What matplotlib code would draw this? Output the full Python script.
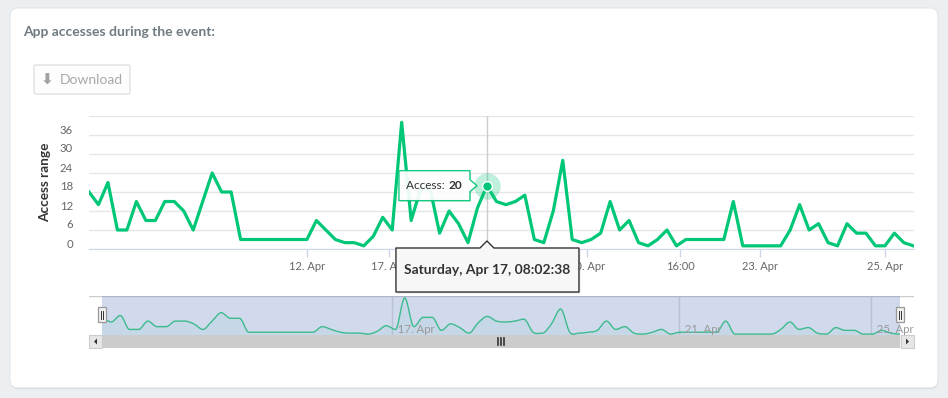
import numpy as np
import matplotlib
matplotlib.use('Agg')
import matplotlib.pyplot as plt
from matplotlib.patches import FancyBboxPatch, Rectangle, Polygon, PathPatch
from matplotlib.path import Path
import matplotlib.transforms as mtrans

plt.rcParams['font.family'] = ['Lato', 'DejaVu Sans']

# ---------------- data ----------------
access = [18, 14, 21, 6, 6, 15, 9, 9, 15, 15, 12, 6, 15, 24, 18, 18,
          3, 3, 3, 3, 3, 3, 3, 3, 9, 6, 3, 2, 2, 1, 4, 10, 6, 40, 9, 19,
          19, 5, 12, 8, 2, 13, 20, 15, 14, 15, 17, 3, 2, 12, 28, 3, 2, 3,
          5, 15, 6, 9, 2, 1, 3, 6, 1, 3, 3, 3, 3, 3, 15, 1, 1, 1, 1, 1,
          6, 14, 6, 8, 2, 1, 8, 5, 5, 1, 1, 5, 2, 1]
xtick_pos = [23, 31.7, 41.4, 52.6, 62.4, 70.8, 84]
xtick_labels = ['12. Apr', '17. Apr', '08:00', '20. Apr', '16:00', '23. Apr', '25. Apr']
ytick_vals = [0, 6, 12, 18, 24, 30, 36, 42]
nav_tick_pos = [31.6, 62.9, 83.8]
nav_tick_labels = ['17. Apr', '21. Apr', '25. Apr']
hover_index = 42
hover_label = 'Saturday, Apr 17, 08:02:38'
series_name = 'Access'
title = 'App accesses during the event:'
y_title = 'Access range'

W, H = 948, 398
GREEN = '#00c777'
x = np.arange(len(access))
y = np.array(access, dtype=float)

fig = plt.figure(figsize=(W / 100, H / 100), dpi=100)
fig.patch.set_facecolor('#eceff1')

def fr(l, t, r, b):
    return [l / W, 1 - b / H, (r - l) / W, (b - t) / H]

# background / card
bg = fig.add_axes([0, 0, 1, 1], zorder=0)
bg.set_xlim(0, W); bg.set_ylim(H, 0); bg.axis('off')
bg.add_patch(FancyBboxPatch((11, 10), 927, 379, boxstyle='round,pad=0,rounding_size=8',
                            fc='#c8cbcd', ec='none', alpha=0.8))
bg.add_patch(FancyBboxPatch((10, 8), 928, 380, boxstyle='round,pad=0,rounding_size=8',
                            fc='white', ec='#e2e5e7', lw=0.8))
bg.text(23, 32, title, fontsize=10, fontweight='bold', color='#6f7b80', va='center', ha='left')
bg.add_patch(FancyBboxPatch((34, 65), 96, 29, boxstyle='round,pad=0,rounding_size=2',
                            fc='#fdfdfd', ec='#dcdcdc', lw=0.9))
bg.text(41, 80, '\u2b07', fontsize=11, color='#a0a0a0', va='center', ha='left',
        family=['DejaVu Sans'], fontweight='bold')
bg.text(60, 80.5, 'Download', fontsize=10, color='#a8a8a8', va='center', ha='left')

# ---------------- main chart ----------------
ax = fig.add_axes(fr(89, 116, 914, 249), zorder=2)
ax.patch.set_alpha(0)
ax.set_xlim(0, 87.07)
ax.set_ylim(0, 42)
ax.set_yticks(ytick_vals)
ax.set_yticklabels([str(v) if v < 42 else '' for v in ytick_vals])
ax.yaxis.grid(True, color='#e6e6e6', lw=1)
ax.set_axisbelow(True)
for s in ['top', 'right', 'left']:
    ax.spines[s].set_visible(False)
ax.spines['bottom'].set_color('#ccd6eb')
ax.tick_params(axis='y', length=0, pad=11.5, labelsize=8.2, labelcolor='#666666')
ax.set_xticks(xtick_pos)
ax.set_xticklabels(xtick_labels)
ax.tick_params(axis='x', length=6, width=1, color='#ccd6eb', pad=3, labelsize=8,
               labelcolor='#666666')
off = mtrans.ScaledTranslation(0, 6 / 100, fig.dpi_scale_trans)
for lab in ax.get_yticklabels():
    lab.set_transform(lab.get_transform() + off)
ax.set_ylabel(y_title, fontsize=9.8, fontweight='bold', color='#333333', labelpad=6)

# crosshair
ax.axvline(hover_index, color='#cccccc', lw=1, zorder=1)
ax.plot(x, y, color=GREEN, lw=2.3, solid_joinstyle='round', zorder=3)
ax.plot([hover_index], [y[hover_index]], 'o', ms=19, color=GREEN, alpha=0.25, mec='none', zorder=4)
ax.plot([hover_index], [y[hover_index]], 'o', ms=7, color=GREEN, mec='white', mew=1, zorder=5)

# ---------------- navigator ----------------
nav = fig.add_axes(fr(89, 296, 914, 335), zorder=2)
nav.set_ylim(0, 42)
n = len(access)
px_per = (900 - 102) / (n - 1)
nav.set_xlim(-(102 - 89) / px_per, (n - 1) + (914 - 900) / px_per)
nav.set_xticks([]); nav.set_yticks([])
for s in nav.spines.values():
    s.set_visible(False)
nav.axhline(42, color='#cccccc', lw=1)
for p in nav_tick_pos:
    nav.axvline(p, color='#dddddd', lw=1, zorder=1)

def smooth(xs, ys):
    m = np.zeros(len(ys))
    for i in range(1, len(ys) - 1):
        if (ys[i] - ys[i - 1]) * (ys[i + 1] - ys[i]) > 0:
            m[i] = (ys[i + 1] - ys[i - 1]) / 2
    verts = [(xs[0], ys[0])]
    codes = [Path.MOVETO]
    for i in range(1, len(ys)):
        h = (xs[i] - xs[i - 1]) / 3
        verts += [(xs[i - 1] + h, ys[i - 1] + m[i - 1] / 3),
                  (xs[i] - h, ys[i] - m[i] / 3),
                  (xs[i], ys[i])]
        codes += [Path.CURVE4] * 3
    return verts, codes

verts, codes = smooth(x.astype(float), y)
fill_verts = verts + [(x[-1], 0), (x[0], 0), verts[0]]
fill_codes = codes + [Path.LINETO, Path.LINETO, Path.CLOSEPOLY]
nav.add_patch(PathPatch(Path(fill_verts, fill_codes), fc=GREEN, alpha=0.06, ec='none', zorder=2))
nav.add_patch(PathPatch(Path(verts, codes), fc='none', ec='#3dbb8e', lw=1.0, zorder=3))
nav.axvspan(0, n - 1, color='#6685c2', alpha=0.3, lw=0, zorder=2.5)
for p, lab in zip(nav_tick_pos, nav_tick_labels):
    nav.text(p, 6, '  ' + lab, fontsize=8.2, color='#999999', ha='left', va='center', zorder=4)

# ---------------- overlay (handles, scrollbar, tooltips) ----------------
ov = fig.add_axes([0, 0, 1, 1], zorder=5)
ov.set_xlim(0, W); ov.set_ylim(H, 0); ov.axis('off'); ov.patch.set_alpha(0)

def to_px(axx, xv, yv):
    dx, dy = axx.transData.transform((xv, yv))
    return dx, H - dy

hl, _ = to_px(nav, 0, 0)
hr, _ = to_px(nav, n - 1, 0)
for hx in (hl, hr):
    ov.add_patch(Rectangle((hx - 4, 307), 8, 15, fc='#f2f2f2', ec='#999999', lw=0.9))
    ov.plot([hx - 1, hx - 1], [310.5, 318.5], color='#333333', lw=0.7)
    ov.plot([hx + 1, hx + 1], [310.5, 318.5], color='#333333', lw=0.7)

# scrollbar
ov.add_patch(Rectangle((89, 335), 825, 13, fc='#f2f2f2', ec='none'))
ov.add_patch(Rectangle((hl, 335), hr - hl, 13, fc='#cccccc', ec='none'))
ov.add_patch(Rectangle((89, 335), 13, 13, fc='#e6e6e6', ec='#cccccc', lw=0.8))
ov.add_patch(Rectangle((901, 335), 13, 13, fc='#e6e6e6', ec='#cccccc', lw=0.8))
ov.add_patch(Polygon([(97, 338.5), (97, 344.5), (94, 341.5)], fc='#333333', ec='none'))
ov.add_patch(Polygon([(906, 338.5), (906, 344.5), (909, 341.5)], fc='#333333', ec='none'))
mid = (hl + hr) / 2
for d in (-3, 0, 3):
    ov.plot([mid + d, mid + d], [338, 345], color='#333333', lw=1.2)

# hover tooltips
px, py = to_px(ax, hover_index, y[hover_index])
_, ybase = to_px(ax, hover_index, 0)

shape = [(px - 91, ybase - 1), (px - 7, ybase - 1), (px, ybase - 8), (px + 7, ybase - 1),
         (px + 92, ybase - 1), (px + 92, ybase + 43), (px - 91, ybase + 43)]
ov.add_patch(Polygon([(a + 1.5, b + 1.5) for a, b in shape], fc='#000000', alpha=0.12, ec='none'))
ov.add_patch(Polygon(shape, fc='#f7f7f7', ec='#333333', lw=1, joinstyle='round'))
ov.text(px, ybase + 21.5, hover_label, fontsize=10, fontweight='bold', color='#333333',
        ha='center', va='center')

shape2 = [(px - 88, py - 15), (px - 17, py - 15), (px - 17, py - 6), (px - 10, py),
          (px - 17, py + 6), (px - 17, py + 15), (px - 88, py + 15)]
ov.add_patch(Polygon([(a + 1, b + 1) for a, b in shape2], fc='#000000', alpha=0.08, ec='none'))
ov.add_patch(Polygon(shape2, fc='white', alpha=0.92, ec=GREEN, lw=1, joinstyle='round'))
t1 = ov.text(px - 81, py, series_name + ': ', fontsize=8.6, color='#333333', ha='left', va='center')
r = fig.canvas.get_renderer()
bb = t1.get_window_extent(r)
ov.text(bb.x1 + 0.5, py, str(access[hover_index]), fontsize=8.6, fontweight='bold',
        color='#333333', ha='left', va='center')

fig.savefig('out.png', dpi=100, facecolor=fig.get_facecolor())
